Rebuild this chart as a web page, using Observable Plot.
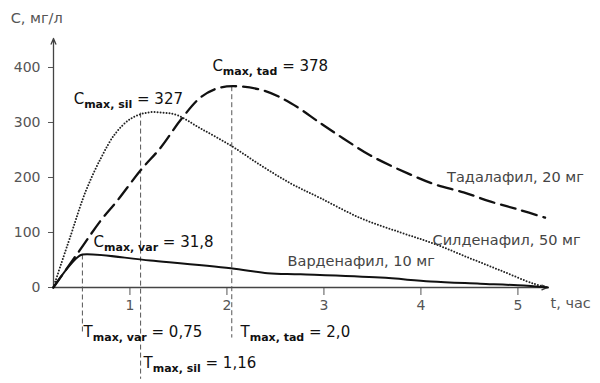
<!DOCTYPE html>
<html><head><meta charset="utf-8">
<script src="https://cdn.jsdelivr.net/npm/d3@7"></script>
<script src="https://cdn.jsdelivr.net/npm/@observablehq/plot@0.6"></script>
<style>
body{margin:0;background:#fff}
#chart [aria-label*="tick label"], #chart [aria-label="x-axis"] text, #chart [aria-label="y-axis"] text{font-size:14px}
</style>
</head><body><div id="chart"></div>
<script>
// axis ticks
const xTicks = [1, 2, 3, 4, 5];
const yTicks = [0, 100, 200, 300, 400];

// Tadalafil, 20 mg (dashed)
const tadT = [0.21, 0.48, 0.70, 0.87, 1.11, 1.32, 1.52, 1.73, 1.90, 2.07, 2.38, 2.66, 2.97, 3.20, 3.48, 3.87, 4.15, 4.44, 4.72, 5.00, 5.28];
const tadC = [0, 67, 122, 158, 213, 255, 304, 346, 362, 366, 358, 335, 298, 271, 240, 207, 187, 173, 156, 142, 127];
// Sildenafil, 50 mg (dotted)
const silT = [0.21, 0.39, 0.54, 0.70, 0.85, 1.01, 1.18, 1.34, 1.49, 1.73, 2.04, 2.35, 2.66, 2.97, 3.38, 3.79, 4.13, 4.48, 4.82, 5.16, 5.31];
const silC = [0, 95, 173, 235, 280, 307, 318, 318, 313, 289, 258, 222, 189, 162, 126, 100, 80, 55, 31, 7, 0];
// Vardenafil, 10 mg (solid)
const varT = [0.21, 0.36, 0.46, 0.51, 1.21, 2.04, 2.42, 2.76, 3.58, 4.10, 4.61, 5.00, 5.31];
const varC = [0, 36, 55, 60, 49, 35, 26, 24, 18, 11, 7, 4, 0];

// peaks (as drawn) and their labels
const peakT = [2.05, 1.11, 0.51];
const peakC = [366, 318, 60];
const cmaxLabels = ["C|max, tad| = 378", "C|max, sil| = 327", "C|max, var| = 31,8"];
const tmaxLabels = ["T|max, tad| = 2,0", "T|max, sil| = 1,16", "T|max, var| = 0,75"];
const curveLabels = ["Тадалафил, 20 мг", "Силденафил, 50 мг", "Варденафил, 10 мг"];
const yTitle = "С, мг/л";
const xTitle = "t, час";

// ---- layout (not data) ----
const W = 600, H = 383;
const xDomain = [0.212, 5.305];
const yDomain = [0, 452.7];
const tmaxDrop = [-91, -166, -84];
const cmaxAt = [{t: 1.85, c: 402}, {t: 0.42, c: 342}, {t: 0.625, c: 82}];
const tmaxAt = [{t: 2.14, c: -82}, {t: 1.14, c: -138}, {t: 0.522, c: -82}];
const curveAt = [{t: 4.27, c: 200}, {t: 4.12, c: 86}, {t: 2.625, c: 47}];
const yTitleAt = {t: -0.23, c: 490};
const xTitleAt = {t: 5.336, c: -29};

const series = (T, C) => T.map((t, i) => ({t, c: C[i]}));
const tad = series(tadT, tadC), sil = series(silT, silC), vard = series(varT, varC);

const font = "DejaVu Sans";
const plot = Plot.plot({
  width: W, height: H,
  marginLeft: 53, marginRight: 53, marginBottom: 96, marginTop: 38,
  style: {fontFamily: font, fontSize: "14px", color: "#555", background: "#fff", overflow: "visible"},
  x: {domain: xDomain, ticks: xTicks, tickFormat: d => String(d), tickSize: 8, tickPadding: 5, label: null},
  y: {domain: yDomain, ticks: yTicks, tickFormat: d => String(d), tickSize: 5, tickPadding: 8, label: null},
  marks: [
    Plot.arrow([{x1: xDomain[0], y1: 0, x2: xDomain[0], y2: yDomain[1]}, {x1: xDomain[0], y1: 0, x2: xDomain[1], y2: 0}],
      {x1: "x1", y1: "y1", x2: "x2", y2: "y2", stroke: "#444", strokeWidth: 1.3, headLength: 7, headAngle: 45}),
    Plot.link(peakT.map((t, i) => ({t, c1: peakC[i], c2: tmaxDrop[i]})),
      {x1: "t", x2: "t", y1: "c1", y2: "c2", stroke: "#555", strokeWidth: 1, strokeDasharray: "5,3"}),
    Plot.line(tad, {x: "t", y: "c", stroke: "#111", strokeWidth: 2.3, strokeDasharray: "15,7", curve: "catmull-rom"}),
    Plot.line(sil, {x: "t", y: "c", stroke: "#222", strokeWidth: 2, strokeDasharray: "0,3", strokeLinecap: "round", curve: "catmull-rom"}),
    Plot.line(vard, {x: "t", y: "c", stroke: "#111", strokeWidth: 2, curve: "catmull-rom"}),
    Plot.text(cmaxLabels.map((s, i) => ({s, ...cmaxAt[i]})),
      {x: "t", y: "c", text: "s", textAnchor: "start", fill: "#111", fontSize: 15, fontFamily: font}),
    Plot.text(tmaxLabels.map((s, i) => ({s, ...tmaxAt[i]})),
      {x: "t", y: "c", text: "s", textAnchor: "start", fill: "#111", fontSize: 15, fontFamily: font}),
    Plot.text(curveLabels.map((s, i) => ({s, ...curveAt[i]})),
      {x: "t", y: "c", text: "s", textAnchor: "start", fill: "#444", fontSize: 14.5, fontFamily: font}),
    Plot.text([{s: yTitle, ...yTitleAt}], {x: "t", y: "c", text: "s", textAnchor: "start", fill: "#555", fontSize: 14.5, fontFamily: font}),
    Plot.text([{s: xTitle, ...xTitleAt}], {x: "t", y: "c", text: "s", textAnchor: "start", fill: "#555", fontSize: 14.5, fontFamily: font})
  ]
});

// subscripts: "C|max, tad| = 378"
const ns = "http://www.w3.org/2000/svg";
plot.querySelectorAll("text").forEach(el => {
  const s = el.textContent;
  if (!s.includes("|")) return;
  const [a, b, c] = s.split("|");
  el.textContent = "";
  const t1 = document.createElementNS(ns, "tspan"); t1.textContent = a;
  const t2 = document.createElementNS(ns, "tspan"); t2.textContent = b;
  t2.setAttribute("font-size", "11"); t2.setAttribute("font-weight", "bold"); t2.setAttribute("dy", "4");
  const t3 = document.createElementNS(ns, "tspan"); t3.textContent = c; t3.setAttribute("dy", "-4");
  el.append(t1, t2, t3);
});
document.getElementById("chart").append(plot);
</script>
</body></html>
